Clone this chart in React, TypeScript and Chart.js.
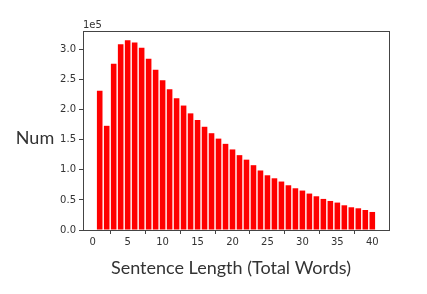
import React, { useEffect, useRef } from "react";
import { Chart, registerables } from "chart.js";

Chart.register(...registerables);

const lengths = [1,2,3,4,5,6,7,8,9,10,11,12,13,14,15,16,17,18,19,20,21,22,23,24,25,26,27,28,29,30,31,32,33,34,35,36,37,38,39,40];
const counts = [231700,173300,276700,309000,315500,312000,303000,285000,266700,249000,234000,219000,207000,194000,183000,171700,161000,152000,143300,134000,124500,117000,107800,99000,91000,86000,80600,74400,69400,65600,60600,56100,51700,48300,45600,41100,37800,36100,33300,30000];
const xTicks = [0,5,10,15,20,25,30,35,40];
const yTicks = [0,50000,100000,150000,200000,250000,300000];

const xTitle = "Sentence Length (Total Words)";
const yTitle = "Num";
const offsetText = "1e5";

export default function App() {
  const ref = useRef<HTMLCanvasElement>(null);
  useEffect(() => {
    document.body.style.margin = "0";
    const titles = {
      id: "titles",
      afterDraw(chart: any) {
        const { ctx, chartArea } = chart;
        ctx.save();
        ctx.strokeStyle = "#444";
        ctx.lineWidth = 1;
        ctx.strokeRect(Math.round(chartArea.left) + 0.5, Math.round(chartArea.top) + 0.5,
          Math.round(chartArea.right - chartArea.left), Math.round(chartArea.bottom - chartArea.top));
        ctx.fillStyle = "#333";
        ctx.font = "10px 'DejaVu Sans'";
        ctx.textAlign = "left";
        ctx.textBaseline = "bottom";
        ctx.fillText(offsetText, chartArea.left, chartArea.top - 1);
        ctx.font = "18px Lato";
        ctx.textAlign = "center";
        ctx.textBaseline = "middle";
        ctx.fillText(yTitle, 35, 138);
        ctx.fillText(xTitle, (chartArea.left + chartArea.right) / 2 - 5, 268);
        ctx.restore();
      },
    };
    const chart = new Chart(ref.current!, {
      type: "bar",
      data: {
        datasets: [
          {
            data: lengths.map((x, i) => ({ x, y: counts[i] })),
            backgroundColor: "#ff0000",
            borderWidth: 0,
            barPercentage: 0.8,
            categoryPercentage: 1,
          },
        ],
      },
      options: {
        animation: false,
        responsive: false,
        layout: { padding: { left: 0, right: 38, top: 31, bottom: 0 } },
        plugins: { legend: { display: false }, tooltip: { enabled: false } },
        scales: {
          x: {
            type: "linear",
            offset: false,
            min: -1.39,
            max: 42.39,
            afterBuildTicks: (s: any) => { s.ticks = xTicks.map((v) => ({ value: v })); },
            afterFit: (s: any) => { s.height = 64; },
            grid: { drawOnChartArea: false, tickLength: 4, tickColor: "#444" },
            border: { color: "#444" },
            ticks: { color: "#333", font: { family: "DejaVu Sans", size: 10 }, padding: 2, maxRotation: 0 },
          },
          y: {
            min: 0,
            max: 331000,
            afterBuildTicks: (s: any) => { s.ticks = yTicks.map((v) => ({ value: v })); },
            afterFit: (s: any) => { s.width = 83; },
            grid: { drawOnChartArea: false, tickLength: 4, tickColor: "#444" },
            border: { color: "#444" },
            ticks: {
              color: "#333",
              font: { family: "DejaVu Sans", size: 10 },
              padding: 3,
              callback: (v: any) => (Number(v) / 1e5).toFixed(1),
            },
          },
        },
      },
      plugins: [titles],
    });
    return () => chart.destroy();
  }, []);
  return <canvas ref={ref} width={427} height={294} style={{ display: "block" }} />;
}
